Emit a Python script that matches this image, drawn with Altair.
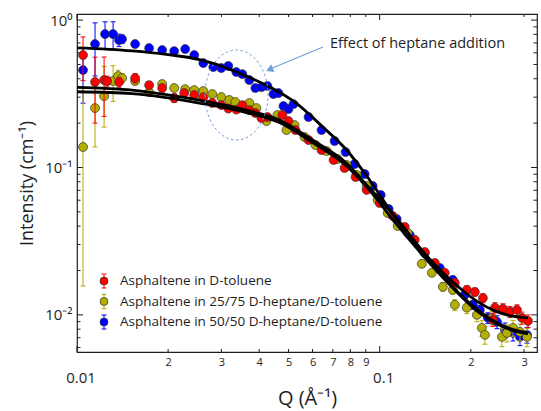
import altair as alt
import pandas as pd

# ---------------------------------------------------------------------------
# SANS curves: Q (1/Å), intensity (1/cm), lower / upper error
# ---------------------------------------------------------------------------
tol_q = [0.01047, 0.01147, 0.01229, 0.01257, 0.01377, 0.01556, 0.01731, 0.01912,
         0.02095, 0.02261, 0.02440, 0.02614, 0.02799, 0.02998, 0.03162, 0.03361,
         0.03519, 0.03711, 0.03885, 0.04068, 0.04257, 0.04772, 0.04996, 0.05271,
         0.05821, 0.06427, 0.07043, 0.07657, 0.08327, 0.09057, 0.1000, 0.1104,
         0.1210, 0.1306, 0.1409, 0.1521, 0.1641, 0.1771, 0.1941, 0.2063,
         0.2193, 0.2367, 0.2404, 0.2555, 0.2695, 0.2842, 0.2953, 0.3090]
tol_i = [0.579, 0.380, 0.392, 0.386, 0.380, 0.404, 0.362, 0.346,
         0.296, 0.320, 0.310, 0.300, 0.274, 0.265, 0.251, 0.247,
         0.265, 0.245, 0.234, 0.2166, 0.220, 0.227, 0.2066, 0.1795,
         0.1536, 0.1314, 0.1124, 0.0992, 0.0862, 0.0704, 0.0574, 0.0469,
         0.0395, 0.0323, 0.0267, 0.0225, 0.0193, 0.0165, 0.0148, 0.0143,
         0.0130, 0.00925, 0.0112, 0.0110, 0.0105, 0.0108, 0.00954, 0.0091]
tol_err = [0.19, 0.18, 0.17, 0.03, 0.03, 0.03, 0.02, 0.02,
           0.02, 0.015, 0.012, 0.012, 0.01, 0.01, 0.01, 0.01,
           0.01, 0.008, 0.008, 0.008, 0.008, 0.007, 0.007, 0.006,
           0.005, 0.004, 0.003, 0.0025, 0.002, 0.002, 0.0015, 0.0012,
           0.001, 0.001, 0.0009, 0.0009, 0.0009, 0.0009, 0.0009, 0.0009,
           0.0009, 0.0009, 0.0009, 0.0009, 0.0009, 0.0009, 0.0009, 0.0009]

h25_q = [0.01047, 0.01147, 0.01229, 0.01316, 0.01367, 0.01409, 0.01556, 0.01731,
         0.01912, 0.02095, 0.02278, 0.02440, 0.02614, 0.02799, 0.02998, 0.03187,
         0.03336, 0.03711, 0.03914, 0.04225, 0.04595, 0.04922, 0.05231, 0.05646,
         0.06139, 0.06676, 0.07261, 0.07774, 0.08391, 0.09057, 0.09849, 0.1063,
         0.1147, 0.1238, 0.1378, 0.1487, 0.1617, 0.1744, 0.1771, 0.1941,
         0.2095, 0.2176, 0.2227, 0.2349, 0.2535, 0.2634, 0.2757, 0.2908, 0.3067]
h25_i = [0.1377, 0.253, 0.305, 0.386, 0.417, 0.404, 0.386, 0.325,
         0.368, 0.346, 0.340, 0.335, 0.330, 0.315, 0.3006, 0.287,
         0.278, 0.274, 0.253, 0.2066, 0.227, 0.1795, 0.194, 0.161,
         0.1421, 0.1293, 0.1142, 0.1040, 0.0890, 0.0749, 0.0602, 0.0491,
         0.0401, 0.0360, 0.0222, 0.0193, 0.0155, 0.0148, 0.0117, 0.0112,
         0.0100, 0.00816, 0.00732, 0.00954, 0.00709, 0.00755, 0.00816, 0.00767, 0.00709]
h25_err_lo = [0.122, 0.115, 0.117, 0.105, 0.04, 0.03, 0.02, 0.015,
              0.015, 0.012, 0.012, 0.01, 0.01, 0.01, 0.01, 0.008,
              0.008, 0.008, 0.007, 0.007, 0.006, 0.006, 0.006, 0.005,
              0.004, 0.003, 0.003, 0.0025, 0.002, 0.002, 0.0015, 0.0012,
              0.001, 0.001, 0.001, 0.001, 0.001, 0.001, 0.001, 0.001,
              0.001, 0.001, 0.001, 0.001, 0.001, 0.001, 0.001, 0.001, 0.001]
h25_err_hi = [0.206, 0.115, 0.18, 0.105] + h25_err_lo[4:]

h50_q = [0.01047, 0.01147, 0.01238, 0.01316, 0.01377, 0.01409, 0.01556, 0.01731,
         0.01912, 0.02095, 0.02278, 0.02440, 0.02614, 0.02820, 0.02998, 0.03162,
         0.03361, 0.03519, 0.03711, 0.03885, 0.04068, 0.04257, 0.04457, 0.04630,
         0.04810, 0.04996, 0.05191, 0.05821, 0.06427, 0.07096, 0.07715, 0.08265,
         0.08920, 0.09480, 0.1008, 0.1071, 0.1138, 0.1257, 0.1409, 0.1580,
         0.1744, 0.1912, 0.2032, 0.2143, 0.2278, 0.2441, 0.2594, 0.2757, 0.2908, 0.3067]
h50_i = [0.458, 0.688, 0.804, 0.804, 0.732, 0.743, 0.688, 0.646,
         0.626, 0.616, 0.636, 0.579, 0.511, 0.480, 0.473, 0.488,
         0.444, 0.430, 0.392, 0.346, 0.351, 0.357, 0.315, 0.320,
         0.261, 0.249, 0.269, 0.220, 0.1795, 0.1512, 0.1273, 0.1056,
         0.0903, 0.0749, 0.0651, 0.0523, 0.0447, 0.0349, 0.0263, 0.0208,
         0.0173, 0.0137, 0.0117, 0.0108, 0.00954, 0.00897, 0.00791, 0.00755, 0.00709, 0.00732]
h50_err = [0.185, 0.27, 0.17, 0.17, 0.07, 0.05, 0.02, 0.015,
           0.012, 0.012, 0.012, 0.01, 0.01, 0.008, 0.008, 0.008,
           0.007, 0.007, 0.006, 0.006, 0.006, 0.006, 0.005, 0.005,
           0.005, 0.005, 0.005, 0.004, 0.003, 0.003, 0.0025, 0.002,
           0.002, 0.0015, 0.0012, 0.001, 0.001, 0.0009, 0.0008, 0.0008,
           0.0008, 0.0008, 0.0008, 0.0008, 0.0008, 0.0009, 0.0009, 0.0009, 0.0009, 0.0009]

# model fits
fit_q_tol = [0.01, 0.01521, 0.01971, 0.02535, 0.03627, 0.04665, 0.05999, 0.07774,
             0.09057, 0.1121, 0.1442, 0.1868, 0.2111, 0.2404, 0.2716, 0.3090]
fit_i_tol = [0.350, 0.335, 0.3125, 0.287, 0.245, 0.210, 0.1536, 0.1068,
             0.0761, 0.0469, 0.0247, 0.0148, 0.01225, 0.01064, 0.00984, 0.00954]
fit_q_h25 = fit_q_tol
fit_i_h25 = [0.3265, 0.3175, 0.2982, 0.2738, 0.2360, 0.2019, 0.1477, 0.1024,
             0.0738, 0.0427, 0.0232, 0.01324, 0.0105, 0.00883, 0.00791, 0.00743]
fit_q_h50 = [0.01, 0.01521, 0.01971, 0.02535, 0.02799, 0.03187, 0.03627, 0.04323,
             0.05311, 0.06477, 0.07774, 0.09267, 0.1121, 0.1442, 0.1868, 0.2111,
             0.2404, 0.2716, 0.3090]
fit_i_h50 = [0.649, 0.619, 0.586, 0.540, 0.511, 0.465, 0.417, 0.353,
             0.2724, 0.189, 0.1314, 0.0823, 0.0462, 0.0243, 0.01345, 0.0108,
             0.00897, 0.00804, 0.00755]

# series names and colours
series_names = ["Asphaltene in D-toluene",
                "Asphaltene in 25/75 D-heptane/D-toluene",
                "Asphaltene in 50/50 D-heptane/D-toluene"]
series_colors = ["#ff0000", "#b4ae00", "#0000ff"]

# axis ticks
x_major = [0.01, 0.1]
x_major_labels = ["0.01", "0.1"]
x_minor = [0.02, 0.03, 0.04, 0.05, 0.06, 0.07, 0.08, 0.09, 0.2, 0.3]
y_major = [1, 0.1, 0.01]
y_major_labels = ["10⁰", "10⁻¹", "10⁻²"]
y_minor = [0.006, 0.007, 0.008, 0.009,
           0.02, 0.03, 0.04, 0.05, 0.06, 0.07, 0.08, 0.09,
           0.2, 0.3, 0.4, 0.5, 0.6, 0.7, 0.8, 0.9]

# ---------------------------------------------------------------------------
W, H = 460, 338
FONT = "Open Sans"
INK = "#1e1e1e"
NOTE = "#6f9fd8"

x_scale = alt.Scale(type="log", domain=[0.01, 0.331], nice=False)
y_scale = alt.Scale(type="log", domain=[0.0056, 1.1], nice=False)

x_label_expr = "toString(round(datum.value / pow(10, floor(log(datum.value) / LN10 + 1e-9))))"
y_label_expr = " : ".join(
    f"datum.value >= {v * 0.999} ? '{t}'" for v, t in zip(y_major[:-1], y_major_labels[:-1])
) + f" : '{y_major_labels[-1]}'"

x_axis = alt.Axis(values=x_minor, labelExpr=x_label_expr, tickSize=0, domain=False,
                  grid=False, labelFontSize=11, labelPadding=4, labelColor=INK,
                  labelFont=FONT, title="Q (Å⁻¹)", titleFont=FONT, titleFontSize=20,
                  titleFontWeight="normal", titleColor=INK, titleY=46,
                  titleBaseline="middle", labelFlush=False)
y_axis = alt.Axis(values=y_major, labelExpr=y_label_expr, tickSize=0, domain=False,
                  grid=False, labelFontSize=15, labelPadding=5, labelColor=INK,
                  labelFont=FONT, title="Intensity (cm⁻¹)", titleFont=FONT,
                  titleFontSize=18, titleFontWeight="normal", titleColor=INK,
                  titleX=-50, titleBaseline="middle", labelFlush=False)


def points_frame(q, i, lo_err, hi_err):
    df = pd.DataFrame({"q": q, "i": i})
    df["lo"] = df["i"] - pd.Series(lo_err)
    df["hi"] = df["i"] + pd.Series(hi_err)
    return df


frames = [
    points_frame(tol_q, tol_i, tol_err, tol_err),
    points_frame(h25_q, h25_i, h25_err_lo, h25_err_hi),
    points_frame(h50_q, h50_i, h50_err, h50_err),
]
fits = [
    pd.DataFrame({"q": fit_q_tol, "i": fit_i_tol}),
    pd.DataFrame({"q": fit_q_h25, "i": fit_i_h25}),
    pd.DataFrame({"q": fit_q_h50, "i": fit_i_h50}),
]

# every layer shares the same axis definitions so the axes merge cleanly
X = alt.X("q:Q", scale=x_scale, axis=x_axis)
Y = alt.Y("i:Q", scale=y_scale, axis=y_axis)

layers = []


def tick_layer(values, along, length):
    """Inward-pointing ticks on both opposite sides of the frame."""
    df = pd.DataFrame({"q": values, "i": values})
    out = []
    if along == "x":
        for y0, y1 in ((H, H - length), (0, length)):
            out.append(alt.Chart(df).mark_rule(color=INK, strokeWidth=1).encode(
                x=X, y=alt.value(y0), y2=alt.value(y1)))
    else:
        for x0, x1 in ((0, length), (W, W - length)):
            out.append(alt.Chart(df).mark_rule(color=INK, strokeWidth=1).encode(
                y=Y, x=alt.value(x0), x2=alt.value(x1)))
    return out


layers += tick_layer(x_major, "x", 6)
layers += tick_layer(x_minor, "x", 3)
layers += tick_layer(y_major, "y", 6)
layers += tick_layer(y_minor, "y", 3.5)

# data: error bars, caps, markers (blue first, red last)
for idx in (2, 1, 0):
    df, color = frames[idx], series_colors[idx]
    base = alt.Chart(df)
    layers.append(base.mark_rule(color=color, strokeWidth=1.2, opacity=0.85, clip=True).encode(
        x=X, y=alt.Y("lo:Q", scale=y_scale, axis=y_axis), y2="hi:Q"))
    for end in ("lo", "hi"):
        layers.append(base.mark_tick(color=color, orient="horizontal", size=5, thickness=1.2,
                                     opacity=0.85, clip=True).encode(
            x=X, y=alt.Y(f"{end}:Q", scale=y_scale, axis=y_axis)))
    layers.append(base.mark_circle(size=80, fill=color, stroke="#333333", strokeWidth=0.7,
                                   opacity=1, clip=True).encode(x=X, y=Y))

# fitted curves
for fit in fits:
    layers.append(alt.Chart(fit).mark_line(color="black", strokeWidth=2.8,
                                           interpolate="monotone", clip=True).encode(x=X, y=Y))

# decade labels on the Q axis
maj_df = pd.DataFrame({"q": x_major, "txt": x_major_labels})
layers.append(alt.Chart(maj_df).mark_text(font=FONT, fontSize=15, color=INK, dx=4,
                                          baseline="middle").encode(
    x=X, y=alt.value(H + 26), text="txt:N"))

# annotation: dashed ellipse, arrow and caption
one = pd.DataFrame({"k": [0]})
ellipse = "M -0.7,0 A 0.7,1 0 1,0 0.7,0 A 0.7,1 0 1,0 -0.7,0 Z"
layers.append(alt.Chart(one).mark_point(shape=ellipse, size=8100, filled=False, stroke=NOTE,
                                        strokeWidth=1, strokeDash=[2.5, 2.5], opacity=1).encode(
    x=alt.value(159.5), y=alt.value(81)))
layers.append(alt.Chart(one).mark_rule(color=NOTE, strokeWidth=1.2).encode(
    x=alt.value(246), y=alt.value(33), x2=alt.value(193), y2=alt.value(55)))
layers.append(alt.Chart(one).mark_point(shape="triangle-left", filled=True, size=70, angle=337,
                                        color=NOTE, opacity=1).encode(
    x=alt.value(192.5), y=alt.value(55.5)))
layers.append(alt.Chart(one).mark_text(font=FONT, fontSize=14.5, color=INK, align="left",
                                       baseline="middle").encode(
    x=alt.value(253), y=alt.value(30), text=alt.value("Effect of heptane addition")))

# legend
for row, (name, color) in enumerate(zip(series_names, series_colors)):
    yc = 267 + row * 20.5
    leg = alt.Chart(pd.DataFrame({"s": [name]}))
    layers.append(leg.mark_rule(color=color, strokeWidth=1.2, opacity=0.85).encode(
        x=alt.value(27), y=alt.value(yc - 7), y2=alt.value(yc + 7)))
    for cap in (yc - 7, yc + 7):
        layers.append(leg.mark_rule(color=color, strokeWidth=1.2, opacity=0.85).encode(
            x=alt.value(24.5), x2=alt.value(29.5), y=alt.value(cap)))
    layers.append(leg.mark_circle(size=64, fill=color, stroke="#333333", strokeWidth=0.7,
                                  opacity=1).encode(x=alt.value(27), y=alt.value(yc)))
    layers.append(leg.mark_text(font=FONT, fontSize=13.5, color=INK, align="left",
                                baseline="middle").encode(
        x=alt.value(43), y=alt.value(yc), text="s:N"))

chart = alt.layer(*layers).properties(
    width=W, height=H,
    autosize=alt.AutoSizeParams(type="none"),
    padding={"left": 77, "top": 14, "right": 4, "bottom": 59},
    background="white",
).configure_view(stroke=INK, strokeWidth=1.2)

chart.save("out.html", embed_options={"renderer": "svg", "actions": False})
